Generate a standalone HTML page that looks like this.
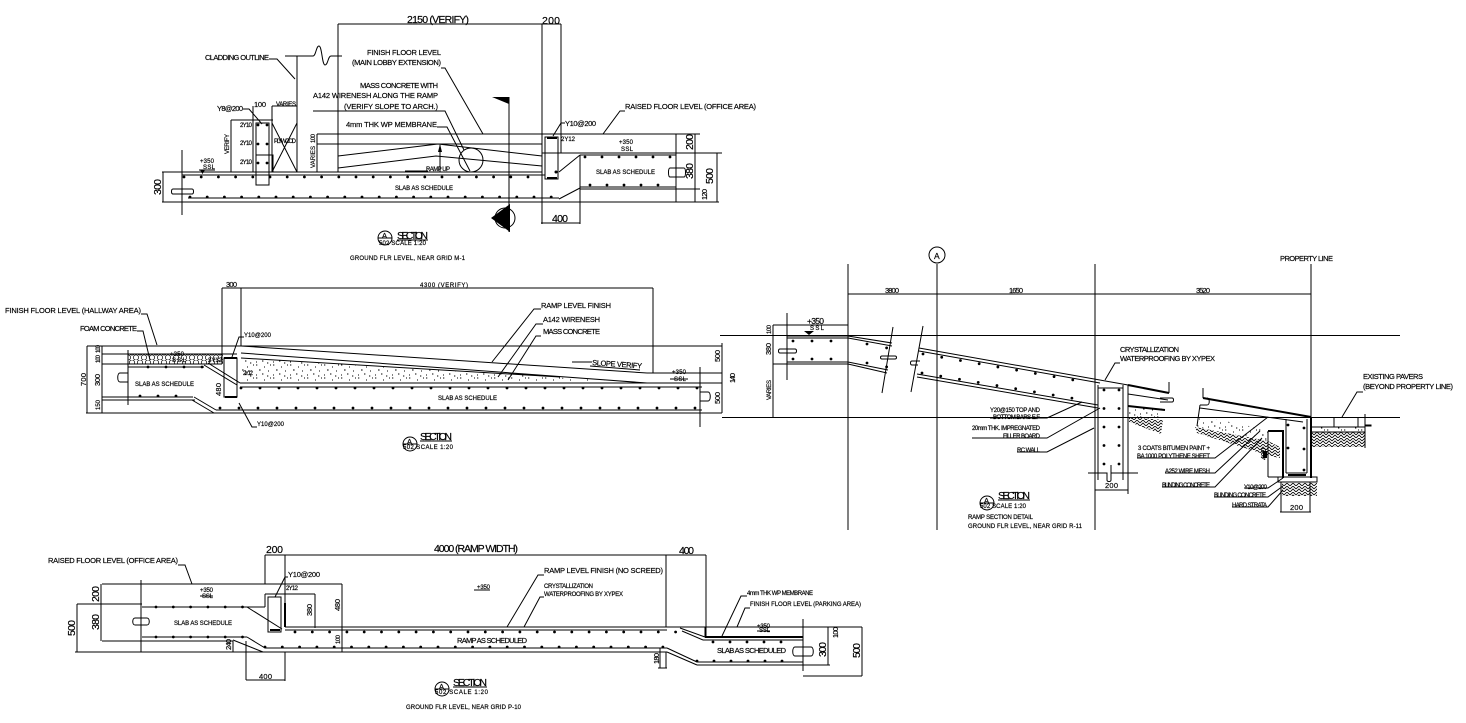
<!DOCTYPE html>
<html><head><meta charset="utf-8"><style>
html,body{margin:0;padding:0;background:#fff}
svg{display:block}
text{font-family:"Liberation Sans",sans-serif;font-size:7.5px;fill:#000;stroke:#000;stroke-width:.18}
.s{font-size:6px}.m{font-size:8.5px}.l{font-size:10.5px}.n{font-size:10.5px}.k{font-size:7.5px}
.g path,.g line,.g rect,.g circle,.g polyline{fill:none;stroke:#000;stroke-width:1}
.g .t{stroke-width:2}
.d{fill:none;stroke:#000;stroke-width:2.8;stroke-linecap:round}
</style></head><body>
<svg width="1466" height="723" viewBox="0 0 1466 723" xmlns="http://www.w3.org/2000/svg">
<defs>
<pattern id="h" width="6" height="6" patternUnits="userSpaceOnUse"><path d="M0 3L3 0L6 3M0 6L3 3L6 6" fill="none" stroke="#000" stroke-width=".85"/></pattern>
<pattern id="st" width="17" height="13" patternUnits="userSpaceOnUse"><path d="M1 1h1.300M9 3h1M4 6h1.600M13 7h1M15 1h1M7 10h1.400M1 11h1M12 12h1.300" stroke="#000" stroke-width="1.100"/></pattern>
<pattern id="hx" width="8" height="10" patternUnits="userSpaceOnUse"><circle cx="4" cy="2.500" r="2.600" fill="none" stroke="#000" stroke-width=".7"/><circle cx="0" cy="7.500" r="2.600" fill="none" stroke="#000" stroke-width=".7"/><circle cx="8" cy="7.500" r="2.600" fill="none" stroke="#000" stroke-width=".7"/></pattern>
</defs>
<rect width="1466" height="723" fill="#fff"/>

<!-- SECTION 1 -->
<g class="g">
<path d="M338 24H561M338 24V172M542 24V224M561 24V153"/>
<path d="M269 59H277L295 79M297 56V172M285 56H313C316 56 316 46 319 46C322 46 322 65 325 65C328 65 328 56 331 56H342"/>
<path d="M441 68H445L483 134M313 111H445L464 150M437 127H447L470 171"/>
<circle cx="471" cy="160" r="12"/>
<path d="M317 134H700M317 144H542M338 156L438 144L542 156M338 168L436 156L542 166"/>
<path d="M440 145V172M405 171H428"/>
<path d="M162 172H542M182 175H545M188 198H559M162 202H719M182 150V215"/>
<path d="M182 189H173C171 189 171 194 173 194H192C194 194 194 189 192 189H182"/>
<path d="M542 153H722M580 155H676M580 187H676M580 189H700M676 134V202M559 172L580 155M559 199L580 188"/>
<path d="M670 168H684C686 168 686 177 684 177H670C668 177 668 168 670 168" />
<rect x="545" y="137" width="13" height="42"/><path class="t" d="M547 138H557M547 178H557"/>
<path d="M542 163V172M565 123H561L553 136"/>
<path d="M625 111H620L603 134"/>
<path d="M695 134V202M717 153V202M676 153H722M676 134H700M163 172V202"/>
<path d="M231 120V172M231 120H273M253 106V172M272 106V172M272 106H297M297 106V172M272 123L297 172M297 123L272 172"/>
<rect x="256" y="123" width="13" height="62"/>
<path d="M243 109H249L262 124M256 155H273V172"/>
<path d="M317 134V172M509 97V232M580 155V224M541 223H580"/>
<path d="M199 170H215"/>
<circle cx="385" cy="238" r="7"/><path d="M378 238H392M397 240H428"/>
<circle cx="505" cy="218" r="10"/>
</g>
<polygon points="492,97 509,97 509,104"/>
<polygon points="510,204 491,218 510,232"/>
<polygon points="440,144 438,152 442,152"/>
<polygon points="200,170 205,170 202.500,174"/>
<line class="d" x1="184" y1="177" x2="545" y2="177" stroke-dasharray="0 17.200"/>
<line class="d" x1="190" y1="197" x2="558" y2="197" stroke-dasharray="0 17.200"/>
<line class="d" x1="585" y1="157" x2="672" y2="157" stroke-dasharray="0 17"/>
<line class="d" x1="590" y1="185" x2="672" y2="185" stroke-dasharray="0 17"/>
<line class="d" x1="258" y1="125" x2="258" y2="170" stroke-dasharray="0 19"/>
<line class="d" x1="267" y1="125" x2="267" y2="170" stroke-dasharray="0 19"/>
<circle cx="556" cy="172" r="1.500"/>
<text class="l" x="407" y="23" textLength="62">2150 (VERIFY)</text>
<text class="n" x="542" y="24" textLength="18">200</text>
<text x="205" y="60" textLength="64">CLADDING OUTLINE</text>
<text x="367" y="55" textLength="74">FINISH FLOOR LEVEL</text>
<text x="352" y="65" textLength="89">(MAIN LOBBY EXTENSION)</text>
<text x="360" y="88" textLength="78">MASS CONCRETE WITH</text>
<text x="313" y="98" textLength="125">A142 WIRENESH ALONG THE RAMP</text>
<text x="344" y="109" textLength="94">(VERIFY SLOPE TO ARCH.)</text>
<text x="346" y="127" textLength="91">4mm THK WP MEMBRANE</text>
<text class="s" x="426" y="171" textLength="24">RAMP UP</text>
<text class="s" x="395" y="190" textLength="58">SLAB AS SCHEDULE</text>
<text class="s" x="596" y="174" textLength="59">SLAB AS SCHEDULE</text>
<text x="625" y="109" textLength="131">RAISED FLOOR LEVEL (OFFICE AREA)</text>
<text x="565" y="126" textLength="31">Y10@200</text>
<text class="s" x="561" y="141" textLength="14">2Y12</text>
<text class="s" x="619" y="144" textLength="14">+350</text>
<text class="s" x="621" y="151" textLength="12">SSL</text>
<text class="s" x="200" y="163" textLength="14">+350</text>
<text class="s" x="203" y="169" textLength="12">SSL</text>
<text x="217" y="111" textLength="26">Y8@200</text>
<text class="k" x="254" y="107" textLength="12">100</text>
<text class="s" x="276" y="106" textLength="20">VARIES</text>
<text class="s" x="240" y="127" textLength="12">2Y10</text>
<text class="s" x="240" y="145" textLength="12">2Y10</text>
<text class="s" x="240" y="164" textLength="12">2Y10</text>
<text class="s" x="274" y="143" textLength="22">PLYWOOD</text>
<text class="s" transform="rotate(-90 229 154)" x="229" y="154" textLength="20">VERIFY</text>
<text class="s" transform="rotate(-90 315 168)" x="315" y="168" textLength="22">VARIES</text>
<text class="s" transform="rotate(-90 315 143)" x="315" y="143" textLength="9">100</text>
<text class="n" transform="rotate(-90 161 195)" x="161" y="195" textLength="16">300</text>
<text class="n" transform="rotate(-90 693 150)" x="693" y="150" textLength="16">200</text>
<text class="n" transform="rotate(-90 693 179)" x="693" y="179" textLength="16">380</text>
<text class="k" transform="rotate(-90 707 200)" x="707" y="200" textLength="11">120</text>
<text class="n" transform="rotate(-90 713 184)" x="713" y="184" textLength="16">500</text>
<text class="n" x="552" y="222" textLength="16">400</text>
<text class="k" x="382" y="238" textLength="6">A</text>
<text class="n" x="397" y="239" textLength="31">SECTION</text>
<text class="s" x="379" y="245" textLength="47">502 SCALE 1:20</text>
<text class="s" x="350" y="260" textLength="115">GROUND FLR LEVEL, NEAR GRID M-1</text>

<!-- SECTION 2 -->
<rect x="128" y="354" width="95" height="10" fill="url(#hx)"/>
<polygon points="241,358 647,383 241,383" fill="url(#st)"/>
<g class="g">
<path d="M222 288H653M222 288V364M241 288V346M653 288V373"/>
<path d="M87 346H722M102 354H237M102 364H222M128 367H204M128 366V367"/>
<path d="M86 413H722M216 410H702M240 383H722M240 387H702"/>
<path d="M102 397H193M102 400H195M204 365L237 385M208 363L240 383M194 397L216 410M192 400L214 413"/>
<path d="M241 346L647 373M241 353L647 383M241 358L560 377"/>
<path d="M647 373H722"/>
<path d="M128 350V405M128 373H120C117 373 117 382 120 382H128V378"/>
<path d="M700 367V427M700 392H708C711 392 711 401 708 401H700"/>
<path d="M722 343V413M87 346V413M102 346V413"/>
<rect x="224" y="358" width="13" height="39"/><path class="t" d="M225 397H237M224 358H237"/>
<path d="M541 309H534L492 362M543 324H536L498 377M541 336H536L508 380"/>
<path d="M141 314H147L157 345M137 331H143L150 360"/>
<path d="M244 337H239L232 357M257 427H252L239 403"/>
<path d="M572 362H592M590 366L640 370"/>
<path d="M670 379H688"/>
<circle cx="410" cy="444" r="7"/><path d="M403 444H417M420 441H452"/>
</g>
<line class="d" x1="148" y1="367" x2="204" y2="367" stroke-dasharray="0 18"/>
<line class="d" x1="140" y1="396" x2="193" y2="396" stroke-dasharray="0 18"/>
<line class="d" x1="241" y1="388" x2="702" y2="388" stroke-dasharray="0 19"/>
<line class="d" x1="220" y1="408" x2="702" y2="408" stroke-dasharray="0 19"/>
<text class="s" x="420" y="287" textLength="48">4300 (VERIFY)</text>
<text class="k" x="226" y="287" textLength="11">300</text>
<text x="541" y="308" textLength="70">RAMP LEVEL FINISH</text>
<text x="543" y="322" textLength="57">A142 WIRENESH</text>
<text x="543" y="334" textLength="57">MASS CONCRETE</text>
<text x="592" y="365" textLength="50" transform="rotate(4 592 365)">SLOPE VERIFY</text>
<text x="5" y="313" textLength="136">FINISH FLOOR LEVEL (HALLWAY AREA)</text>
<text x="80" y="331" textLength="57">FOAM CONCRETE</text>
<text class="s" x="170" y="356" textLength="14">+350</text>
<text class="s" x="172" y="362" textLength="14">SSL</text>
<text class="s" x="208" y="362" textLength="14">2Y12</text>
<text class="s" x="672" y="374" textLength="14">+350</text>
<text class="s" x="674" y="381" textLength="12">SSL</text>
<text class="s" x="135" y="386" textLength="59">SLAB AS SCHEDULE</text>
<text class="s" x="438" y="400" textLength="59">SLAB AS SCHEDULE</text>
<text class="s" x="244" y="337" textLength="27">Y10@200</text>
<text class="s" x="257" y="426" textLength="27">Y10@200</text>
<text class="k" transform="rotate(-90 86 386)" x="86" y="386" textLength="13">700</text>
<text class="s" transform="rotate(-90 100 353)" x="100" y="353" textLength="8">100</text>
<text class="s" transform="rotate(-90 100 363)" x="100" y="363" textLength="8">100</text>
<text class="k" transform="rotate(-90 100 386)" x="100" y="386" textLength="12">300</text>
<text class="s" transform="rotate(-90 100 410)" x="100" y="410" textLength="10">150</text>
<text class="k" transform="rotate(-90 221 396)" x="221" y="396" textLength="13">480</text>
<text class="k" transform="rotate(-90 720 362)" x="720" y="362" textLength="12">500</text>
<text class="k" transform="rotate(-90 720 404)" x="720" y="404" textLength="12">500</text>
<text class="k" transform="rotate(-90 735 383)" x="735" y="383" textLength="10">140</text>
<text class="s" x="243" y="375" textLength="10">2Y12</text>
<text class="k" x="407" y="444" textLength="6">A</text>
<text class="n" x="420" y="440" textLength="32">SECTION</text>
<text class="s" x="403" y="449" textLength="50">502 SCALE 1:20</text>

<!-- SECTION 3 -->
<polygon points="1200,416 1268,430 1268,441 1197,427" fill="url(#st)"/>
<rect x="1129" y="408" width="34" height="11" fill="url(#st)"/>
<polygon points="1129,417 1163,420 1161,434 1129,422" fill="url(#h)"/>
<polygon points="1195,427 1268,441 1280,447 1280,458 1270,456 1197,433" fill="url(#h)"/>
<rect x="1282" y="483" width="35" height="13" fill="url(#h)"/>
<rect x="1312" y="432" width="53" height="15" fill="url(#h)"/>
<rect x="1312" y="427" width="53" height="5" fill="url(#st)"/>
<g class="g">
<circle cx="937" cy="255" r="8"/>
<path d="M937 264V530M848 264V530M1095 264V530M1311 264V417M848 294H1311"/>
<path d="M720 335.500H1400M722 417.500H1400"/>
<path d="M787 336H848L892 343M787 338H848L892 346M787 362H848L888 370M787 364H848L887 373"/>
<path d="M787 313V380M893 327L882 393M923 326L911 392"/>
<path d="M787 349H780C778 349 778 353 780 353H795C797 353 797 349 795 349H787"/>
<path d="M888 356H882C880 356 880 359 882 359H895C897 359 897 356 895 356H888"/>
<path d="M920 361H912C910 361 910 365 912 365H918"/>
<path d="M919 348L1128 385M919 351L1100 383M917 374L1098 405M917 377L1098 408"/>
<path d="M773 325V417M773 325H848M787 364H773M722 343V413"/>
<path d="M1098 385V480M1123 385V480M1128 385V480M1098 388H1123"/>
<path d="M1088 473H1107V480C1107 482 1111 482 1111 480V465M1111 473H1138"/>
<path d="M1095 490H1128M1095 480V494M1128 480V494"/>
<path class="t" d="M1128 385L1169 393M1128 406L1165 410"/>
<path d="M1128 394L1168 400M1169 382V393M1160 398H1172C1174 398 1174 402 1172 402H1160"/>
<path class="t" d="M1203 398L1311 417"/>
<path d="M1203 388V398M1200 405H1207C1210 405 1210 398 1207 398M1200 408L1303 422M1200 405L1197 426"/>
<path class="t" d="M1268 431H1283M1283 430V478M1311 417V478M1288 475H1306"/>
<path d="M1286 419V473M1307 419V473M1286 473H1307M1268 432V477M1268 477H1282"/>
<rect x="1278" y="477" width="39" height="5"/>
<path d="M1281 482V512M1310 482V512M1280 512H1311"/>
<path d="M1311 427H1365M1334 417V427M1358 417V427M1312 432H1365M1365 414V448M1365 425H1371V426H1365"/>
<path d="M1120 363H1115L1105 380M1363 392H1357L1342 417"/>
<path d="M1137 458H1215L1268 417M1165 473H1215L1260 431M1162 487H1215L1262 438"/>
<path d="M1244 488H1268L1283 478M1214 497H1268L1283 486M1232 507H1268L1283 490"/>
<path d="M990 418H1047L1082 402M972 438H1047L1100 408M1017 452H1047L1094 428"/>
<circle cx="987" cy="503" r="7"/><path d="M980 503H994M998 500H1030"/>
</g>
<rect x="1263" y="451" width="4" height="7"/>
<line class="d" x1="793" y1="341" x2="850" y2="341" stroke-dasharray="0 19"/>
<line class="d" x1="793" y1="359" x2="850" y2="359" stroke-dasharray="0 19"/>
<line class="d" x1="867" y1="344" x2="887" y2="348" stroke-dasharray="0 20"/>
<line class="d" x1="867" y1="363" x2="887" y2="367" stroke-dasharray="0 20"/>
<line class="d" x1="923" y1="354" x2="1085" y2="382" stroke-dasharray="0 19"/>
<line class="d" x1="922" y1="373" x2="1083" y2="400" stroke-dasharray="0 19"/>
<line class="d" x1="1104" y1="390" x2="1104" y2="466" stroke-dasharray="0 18.500"/>
<line class="d" x1="1119" y1="390" x2="1119" y2="466" stroke-dasharray="0 18.500"/>
<line class="d" x1="1288" y1="425" x2="1288" y2="471" stroke-dasharray="0 23"/>
<line class="d" x1="1304" y1="428" x2="1304" y2="471" stroke-dasharray="0 21"/>
<text class="k" x="885" y="293" textLength="14">3800</text>
<text class="k" x="1009" y="293" textLength="14">1650</text>
<text class="k" x="1196" y="293" textLength="14">3520</text>
<text class="m" x="934" y="259" textLength="6">A</text>
<text x="1280" y="261" textLength="53">PROPERTY LINE</text>
<text class="m" x="807" y="324" textLength="17">+350</text>
<text class="s" x="810" y="330" textLength="14">SSL</text>
<path d="M804 331H814L809 335Z"/>
<text class="s" transform="rotate(-90 771 334)" x="771" y="334" textLength="9">100</text>
<text class="k" transform="rotate(-90 771 355)" x="771" y="355" textLength="12">380</text>
<text class="s" transform="rotate(-90 771 400)" x="771" y="400" textLength="20">VARIES</text>
<text x="1120" y="352" textLength="59">CRYSTALLIZATION</text>
<text x="1120" y="361" textLength="95">WATERPROOFING BY XYPEX</text>
<text x="1363" y="379" textLength="60">EXISTING PAVERS</text>
<text x="1363" y="389" textLength="90">(BEYOND PROPERTY LINE)</text>
<text class="s" x="990" y="412" textLength="50">Y20@150 TOP AND</text>
<text class="s" x="993" y="419" textLength="47">BOTTOM BARS E.F</text>
<text class="s" x="972" y="430" textLength="68">20mm THK. IMPREGNATED</text>
<text class="s" x="1003" y="438" textLength="37">FILLER BOARD</text>
<text class="s" x="1017" y="452" textLength="23">RC WALL</text>
<text class="s" x="1138" y="450" textLength="72">3 COATS BITUMEN PAINT +</text>
<text class="s" x="1137" y="458" textLength="73">BA 1000 POLYTHENE SHEET</text>
<text class="s" x="1165" y="473" textLength="45">A252 WIRE MESH</text>
<text class="s" x="1162" y="487" textLength="48">BLINDING CONCRETE</text>
<text class="s" x="1244" y="489" textLength="23">Y10@200</text>
<text class="s" x="1214" y="497" textLength="52">BLINDING CONCRETE</text>
<text class="s" x="1232" y="507" textLength="35">HARD STRATA</text>
<text class="k" x="1105" y="488" textLength="13">200</text>
<text class="k" x="1290" y="510" textLength="13">200</text>
<text class="k" transform="rotate(-90 1266 460)" x="1266" y="460" textLength="12">400</text>
<text class="k" x="984" y="503" textLength="6">A</text>
<text class="n" x="998" y="499" textLength="32">SECTION</text>
<text class="s" x="980" y="508" textLength="46">502 SCALE 1:20</text>
<text class="s" x="968" y="519" textLength="65">RAMP SECTION DETAIL</text>
<text class="s" x="968" y="528" textLength="114">GROUND FLR LEVEL, NEAR GRID R-11</text>

<!-- SECTION 4 -->
<g class="g">
<path d="M265 555H706M265 555V584M285 555V603M285 652V681M666 555V627M706 555V637"/>
<path d="M102 584H342M77 604H142M142 607H265M265 607V594M265 594H315M315 594V628"/>
<path class="t" d="M285 603V627"/>
<path d="M285 627H862M285 630H667M682 631L703 640M703 640H803M680 628L705 637V627"/>
<path class="t" d="M705 637H803"/>
<path d="M247 607L282 629M247 637L265 648M233 640L263 652M142 637H247M102 641H233"/>
<path d="M75 652H667M265 648H667M667 648L697 662M667 652L697 665M697 662H803M697 665H830M803 676H862M666 652V668M658 668H667M660 648V668"/>
<path d="M803 619V671M803 647H795C792 647 792 656 795 656H811C814 656 814 647 811 647H803"/>
<path d="M141 580V652M141 618H135C132 618 132 625 135 625H147C150 625 150 618 147 618H141"/>
<path d="M77 604V652M101 584V641M342 584V652M315 594V627M233 641V652"/>
<path d="M828 627V665M862 627V676M246 641V680M246 680H285"/>
<rect x="268" y="597" width="13" height="35"/><path class="t" d="M270 630H280"/>
<path d="M288 577H285L275 597M178 565H185L192 584"/>
<path d="M544 575H538L507 627M544 597H540L524 627M747 596H741L722 636M750 608H745L737 627"/>
<path d="M474 590H490M757 631H770M200 596H213"/>
<circle cx="442" cy="689" r="7"/><path d="M435 689H449M453 687H487"/>
</g>
<line class="d" x1="156" y1="607" x2="247" y2="607" stroke-dasharray="0 17.300"/>
<line class="d" x1="156" y1="637" x2="247" y2="637" stroke-dasharray="0 17.300"/>
<line class="d" x1="295" y1="632" x2="680" y2="632" stroke-dasharray="0 17.300"/>
<line class="d" x1="265" y1="647" x2="667" y2="647" stroke-dasharray="0 17.300"/>
<line class="d" x1="713" y1="642" x2="797" y2="642" stroke-dasharray="0 17"/>
<line class="d" x1="697" y1="661" x2="797" y2="661" stroke-dasharray="0 17"/>
<text x="48" y="563" textLength="130">RAISED FLOOR LEVEL (OFFICE AREA)</text>
<text class="n" x="266" y="553" textLength="17">200</text>
<text x="288" y="577" textLength="32">Y10@200</text>
<text class="s" x="286" y="590" textLength="12">2Y12</text>
<text class="l" x="434" y="552" textLength="84">4000 (RAMP WIDTH)</text>
<text class="n" x="679" y="554" textLength="15">400</text>
<text x="544" y="573" textLength="119">RAMP LEVEL FINISH (NO SCREED)</text>
<text class="s" x="544" y="588" textLength="49">CRYSTALLIZATION</text>
<text class="s" x="544" y="596" textLength="79">WATERPROOFING BY XYPEX</text>
<text class="s" x="747" y="595" textLength="66">4mm THK WP MEMBRANE</text>
<text class="s" x="750" y="606" textLength="111">FINISH FLOOR LEVEL (PARKING AREA)</text>
<text class="s" x="477" y="589" textLength="13">+350</text>
<text class="s" x="757" y="628" textLength="13">+350</text>
<text class="s" x="759" y="632" textLength="11">SSL</text>
<text class="s" x="200" y="592" textLength="13">+350</text>
<text class="s" x="202" y="598" textLength="11">SSL</text>
<text class="s" x="174" y="625" textLength="58">SLAB AS SCHEDULE</text>
<text x="457" y="643" textLength="70">RAMP AS SCHEDULED</text>
<text x="717" y="653" textLength="69">SLAB AS SCHEDULED</text>
<text class="n" transform="rotate(-90 75 636)" x="75" y="636" textLength="16">500</text>
<text class="n" transform="rotate(-90 99 602)" x="99" y="602" textLength="16">200</text>
<text class="n" transform="rotate(-90 99 630)" x="99" y="630" textLength="16">380</text>
<text class="k" transform="rotate(-90 312 616)" x="312" y="616" textLength="12">380</text>
<text class="k" transform="rotate(-90 340 611)" x="340" y="611" textLength="12">480</text>
<text class="s" transform="rotate(-90 340 644)" x="340" y="644" textLength="9">100</text>
<text class="k" transform="rotate(-90 231 650)" x="231" y="650" textLength="11">240</text>
<text class="k" transform="rotate(-90 659 664)" x="659" y="664" textLength="11">180</text>
<text class="n" transform="rotate(-90 826 657)" x="826" y="657" textLength="15">300</text>
<text class="k" transform="rotate(-90 838 638)" x="838" y="638" textLength="11">100</text>
<text class="n" transform="rotate(-90 860 658)" x="860" y="658" textLength="15">500</text>
<text class="k" x="259" y="679" textLength="13">400</text>
<text class="k" x="439" y="689" textLength="6">A</text>
<text class="n" x="453" y="686" textLength="34">SECTION</text>
<text class="s" x="435" y="694" textLength="53">502 SCALE 1:20</text>
<text class="s" x="406" y="709" textLength="115">GROUND FLR LEVEL, NEAR GRID P-10</text>
</svg>
</body></html>
